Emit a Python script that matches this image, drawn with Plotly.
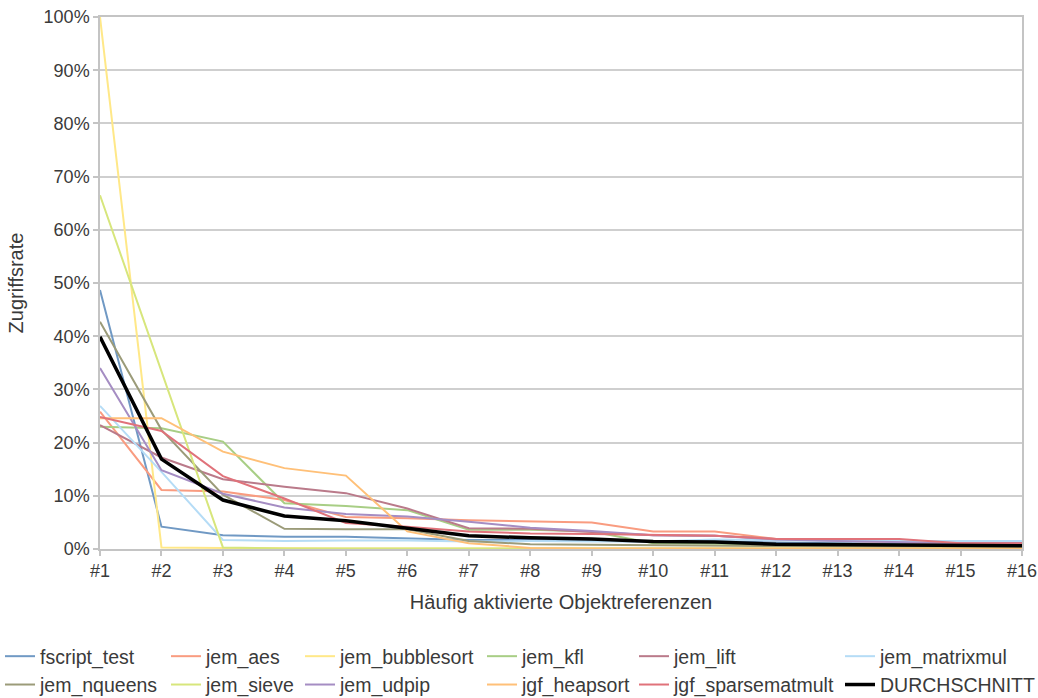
import plotly.graph_objects as go

# Häufig aktivierte Objektreferenzen #1 .. #16
categories = [f"#{i}" for i in range(1, 17)]

# Zugriffsrate in Prozent je Benchmark
fscript_test = [48.7, 4.2, 2.6, 2.3, 2.3, 2.0, 1.7, 1.7, 1.6, 1.4, 1.5, 1.2, 1.1, 1.0, 0.9, 0.9]
jem_aes = [25.8, 11.1, 10.8, 9.2, 6.0, 5.8, 5.4, 5.2, 5.0, 3.3, 3.3, 1.9, 1.6, 1.3, 1.0, 1.0]
jem_bubblesort = [100.0, 0.3, 0.2, 0.1, 0.1, 0.1, 0.1, 0.1, 0.1, 0.1, 0.1, 0.1, 0.1, 0.1, 0.1, 0.1]
jem_kfl = [23.0, 22.7, 20.2, 8.6, 8.1, 7.3, 3.6, 3.6, 3.3, 1.1, 1.0, 0.9, 0.8, 0.7, 0.6, 0.6]
jem_lift = [23.3, 17.2, 13.1, 11.7, 10.5, 7.6, 3.9, 3.8, 3.2, 2.6, 2.5, 1.9, 1.7, 1.6, 1.3, 1.3]
jem_matrixmul = [26.9, 14.5, 1.7, 1.5, 1.6, 1.6, 1.4, 1.5, 1.4, 1.4, 1.8, 1.6, 1.5, 1.5, 1.5, 1.5]
jem_nqueens = [42.7, 22.4, 10.2, 3.8, 3.7, 3.7, 1.5, 0.9, 0.8, 0.7, 0.6, 0.5, 0.5, 0.4, 0.4, 0.4]
jem_sieve = [66.5, 33.3, 0.3, 0.1, 0.1, 0.1, 0.1, 0.1, 0.1, 0.1, 0.1, 0.1, 0.1, 0.1, 0.1, 0.1]
jem_udpip = [34.0, 14.8, 10.4, 7.8, 6.6, 6.1, 5.1, 4.0, 3.4, 2.6, 2.5, 1.8, 1.5, 1.3, 1.1, 1.1]
jgf_heapsort = [24.6, 24.6, 18.3, 15.2, 13.8, 3.3, 1.1, 0.2, 0.1, 0.1, 0.1, 0.1, 0.1, 0.1, 0.1, 0.1]
jgf_sparsematmult = [24.8, 22.2, 13.7, 9.5, 4.9, 4.2, 3.3, 2.9, 2.8, 2.7, 2.5, 1.9, 1.9, 1.9, 1.1, 1.1]
durchschnitt = [39.9, 16.9, 9.2, 6.2, 5.3, 3.9, 2.5, 2.1, 1.9, 1.4, 1.3, 0.9, 0.8, 0.7, 0.6, 0.6]

y_ticks = [0, 10, 20, 30, 40, 50, 60, 70, 80, 90, 100]
y_tick_labels = [f"{v}%" for v in y_ticks]

series = [
    ("fscript_test", fscript_test, "#7099C4", 2, "legend"),
    ("jem_aes", jem_aes, "#F99C80", 2, "legend2"),
    ("jem_bubblesort", jem_bubblesort, "#FFE888", 2, "legend3"),
    ("jem_kfl", jem_kfl, "#A8CE85", 2, "legend4"),
    ("jem_lift", jem_lift, "#BA7A8A", 2, "legend5"),
    ("jem_matrixmul", jem_matrixmul, "#B5DCF6", 2, "legend6"),
    ("jem_nqueens", jem_nqueens, "#9B9B79", 2, "legend"),
    ("jem_sieve", jem_sieve, "#D7E67C", 2, "legend2"),
    ("jem_udpip", jem_udpip, "#A58DC3", 2, "legend3"),
    ("jgf_heapsort", jgf_heapsort, "#FFC078", 2, "legend4"),
    ("jgf_sparsematmult", jgf_sparsematmult, "#E0727A", 2, "legend5"),
    ("DURCHSCHNITT", durchschnitt, "#000000", 3.5, "legend6"),
]

FONT = "Liberation Sans, Arial, Helvetica, sans-serif"
TEXT = "#3a3a3a"
FS_TICK = 18
FS_LEGEND = 19.5
FS_TITLE = 20

fig = go.Figure()
for name, values, color, width, leg in series:
    fig.add_trace(go.Scatter(
        x=categories, y=values, name=name, mode="lines",
        line=dict(color=color, width=width), legend=leg,
    ))

W, H = 1038, 698
L, R, T, B = 100, 16, 17, 149
pw, ph = W - L - R, H - T - B

# one legend per column so the entries line up like a table
col_px = [0, 166, 300, 482, 634, 840]
legend_top_px = 637
legends = {}
for i, px in enumerate(col_px):
    key = "legend" if i == 0 else f"legend{i + 1}"
    legends[key] = dict(
        x=(px - L) / pw, xanchor="left",
        y=(H - B - legend_top_px) / ph, yanchor="top",
        orientation="v", bgcolor="rgba(0,0,0,0)",
        font=dict(family=FONT, size=FS_LEGEND, color=TEXT),
        itemwidth=30, tracegroupgap=0,
    )

fig.update_layout(
    width=W, height=H,
    margin=dict(l=L, r=R, t=T, b=B, autoexpand=False),
    paper_bgcolor="white", plot_bgcolor="white",
    font=dict(family=FONT, size=FS_TICK, color=TEXT),
    showlegend=True,
    **legends,
)

fig.update_xaxes(
    type="category", range=[0, 15],
    showgrid=False, zeroline=False,
    showline=True, linecolor="#C4C4C4", linewidth=1.5, mirror=True,
    ticks="outside", ticklen=5, tickcolor="#C4C4C4", tickwidth=1.5,
    tickfont=dict(family=FONT, size=FS_TICK, color=TEXT),
    title=dict(text="Häufig aktivierte Objektreferenzen",
               font=dict(family=FONT, size=FS_TITLE, color=TEXT)),
)
fig.update_yaxes(
    range=[0, 100],
    tickvals=y_ticks, ticktext=y_tick_labels,
    showgrid=True, gridcolor="#CFCFCF", gridwidth=1.5,
    zeroline=False,
    showline=True, linecolor="#C4C4C4", linewidth=1.5, mirror=True,
    ticks="outside", ticklen=5, tickcolor="#C4C4C4", tickwidth=1.5,
    tickfont=dict(family=FONT, size=FS_TICK, color=TEXT),
    title=dict(text="Zugriffsrate",
               font=dict(family=FONT, size=FS_TITLE, color=TEXT)),
)

fig.write_html("out.html")
